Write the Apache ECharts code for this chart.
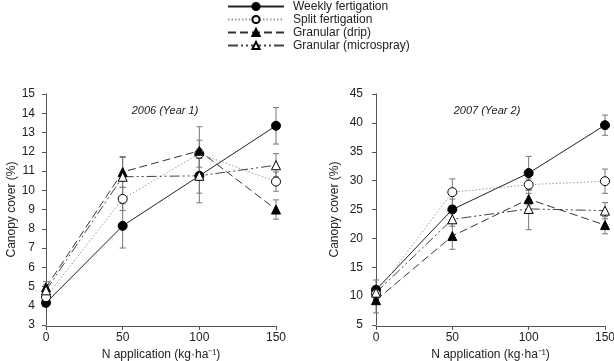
<!DOCTYPE html>
<html>
<head>
<meta charset="utf-8">
<script src="https://cdn.jsdelivr.net/npm/echarts@6/dist/echarts.min.js"></script>
<style>
  html, body { margin: 0; padding: 0; background: #fff; }
  #chart { width: 614px; height: 361px; }
</style>
</head>
<body>
<div id="chart"></div>
<script>
// N application levels (kg/ha)
var nRates = [0, 50, 100, 150];
var seriesNames = ['Weekly fertigation', 'Split fertigation', 'Granular (drip)', 'Granular (microspray)'];

// 2006 (Year 1) canopy cover (%) and standard errors
var weekly2006 = [4.15, 8.15, 10.75, 13.35];
var weekly2006Err = [0.2, 1.15, 1.4, 0.95];
var split2006 = [4.45, 9.55, 11.9, 10.45];
var split2006Err = [0.25, 0.6, 0.7, 0.5];
var drip2006 = [4.95, 10.95, 12.05, 9.0];
var drip2006Err = [0.3, 0.8, 1.25, 0.5];
var micro2006 = [4.8, 10.7, 10.75, 11.3];
var micro2006Err = [0.3, 1.0, 0.9, 0.6];

// 2007 (Year 2)
var weekly2007 = [11.1, 25.0, 31.3, 39.6];
var weekly2007Err = [1.7, 1.8, 2.9, 1.75];
var split2007 = [10.4, 28.0, 29.3, 29.9];
var split2007Err = [1.2, 2.3, 1.0, 2.1];
var drip2007 = [9.3, 20.4, 26.8, 22.3];
var drip2007Err = [2.2, 2.3, 1.0, 1.5];
var micro2007 = [10.6, 23.3, 25.1, 24.8];
var micro2007Err = [1.0, 1.2, 3.6, 1.4];

var styles = [
  { symbol: 'circle', fill: '#000', line: '#222', type: 'solid' },
  { symbol: 'circle', fill: '#fff', line: '#999', type: [1.5, 2] },
  { symbol: 'triangle', fill: '#000', line: '#333', type: [8, 4] },
  { symbol: 'triangle', fill: '#fff', line: '#444', type: [10, 3, 2, 3, 2, 3] }
];

var font = 'Liberation Sans, Arial, sans-serif';

function pairs(vals) {
  return nRates.map(function (x, i) { return [x, vals[i]]; });
}

function errData(vals, errs) {
  return nRates.map(function (x, i) { return [x, vals[i] - errs[i], vals[i] + errs[i]]; });
}

function errorSeries(idx, vals, errs) {
  return {
    type: 'custom',
    xAxisIndex: idx,
    yAxisIndex: idx,
    z: 1,
    silent: true,
    clip: false,
    data: errData(vals, errs),
    renderItem: function (params, api) {
      var lo = api.coord([api.value(0), api.value(1)]);
      var hi = api.coord([api.value(0), api.value(2)]);
      var w = 3;
      var st = { stroke: '#777', lineWidth: 1 };
      return {
        type: 'group',
        children: [
          { type: 'line', shape: { x1: lo[0], y1: lo[1], x2: hi[0], y2: hi[1] }, style: st },
          { type: 'line', shape: { x1: lo[0] - w, y1: lo[1], x2: lo[0] + w, y2: lo[1] }, style: st },
          { type: 'line', shape: { x1: hi[0] - w, y1: hi[1], x2: hi[0] + w, y2: hi[1] }, style: st }
        ]
      };
    }
  };
}

function lineSeries(idx, k, vals) {
  var s = styles[k];
  return {
    name: seriesNames[k],
    type: 'line',
    xAxisIndex: idx,
    yAxisIndex: idx,
    z: 3,
    clip: false,
    symbol: s.symbol,
    symbolSize: 9,
    data: pairs(vals),
    lineStyle: { color: s.line, width: 1, type: s.type },
    itemStyle: { color: s.fill, borderColor: '#000', borderWidth: 1 }
  };
}

function xAxisFor(idx) {
  return {
    type: 'value', gridIndex: idx, min: 0, max: 150, interval: 50, offset: 1,
    name: 'N application (kg\u00b7ha\u207b\u00b9)', nameLocation: 'middle', nameGap: 22,
    nameTextStyle: { fontFamily: font, fontSize: 12, color: '#222' },
    axisLine: { lineStyle: { color: '#555' } },
    axisTick: { length: 4, lineStyle: { color: '#555' } },
    axisLabel: { fontFamily: font, fontSize: 12, color: '#222', margin: 6 },
    splitLine: { show: false }
  };
}

function yAxisFor(idx, min, max, interval, offset, gap) {
  return {
    type: 'value', gridIndex: idx, min: min, max: max, interval: interval, offset: offset,
    name: 'Canopy cover (%)', nameLocation: 'middle', nameGap: gap,
    nameTextStyle: { fontFamily: font, fontSize: 12, color: '#222' },
    axisLine: { show: true, lineStyle: { color: '#555' } },
    axisTick: { show: true, length: 4, lineStyle: { color: '#555' } },
    axisLabel: { fontFamily: font, fontSize: 12, color: '#222', margin: 6 },
    splitLine: { show: false }
  };
}

var chart = echarts.init(document.getElementById('chart'));

var option = {
  animation: false,
  backgroundColor: '#fff',
  title: [
    { text: '2006 (Year 1)', left: 160, top: 100, textAlign: 'center',
      textStyle: { fontFamily: font, fontSize: 11, fontStyle: 'italic', fontWeight: 'normal', color: '#222' } },
    { text: '2007 (Year 2)', left: 482, top: 100, textAlign: 'center',
      textStyle: { fontFamily: font, fontSize: 11, fontStyle: 'italic', fontWeight: 'normal', color: '#222' } }
  ],
  legend: {
    data: seriesNames,
    orient: 'vertical',
    left: 222,
    top: -5,
    itemWidth: 56,
    itemHeight: 9,
    itemGap: 0,
    textStyle: { fontFamily: font, fontSize: 12, lineHeight: 13, color: '#222', padding: [0, 0, 0, 4] }
  },
  grid: [
    { left: 46, top: 94, width: 230, height: 231, outerBoundsMode: 'none' },
    { left: 376, top: 94, width: 229, height: 231, outerBoundsMode: 'none' }
  ],
  xAxis: [xAxisFor(0), xAxisFor(1)],
  yAxis: [yAxisFor(0, 3, 15, 1, 5, 22), yAxisFor(1, 5, 45, 5, 7, 28)],
  series: [
    errorSeries(0, weekly2006, weekly2006Err),
    errorSeries(0, split2006, split2006Err),
    errorSeries(0, drip2006, drip2006Err),
    errorSeries(0, micro2006, micro2006Err),
    errorSeries(1, weekly2007, weekly2007Err),
    errorSeries(1, split2007, split2007Err),
    errorSeries(1, drip2007, drip2007Err),
    errorSeries(1, micro2007, micro2007Err),
    lineSeries(0, 0, weekly2006),
    lineSeries(0, 1, split2006),
    lineSeries(0, 2, drip2006),
    lineSeries(0, 3, micro2006),
    lineSeries(1, 0, weekly2007),
    lineSeries(1, 1, split2007),
    lineSeries(1, 2, drip2007),
    lineSeries(1, 3, micro2007)
  ]
};

chart.setOption(option);
</script>
</body>
</html>
